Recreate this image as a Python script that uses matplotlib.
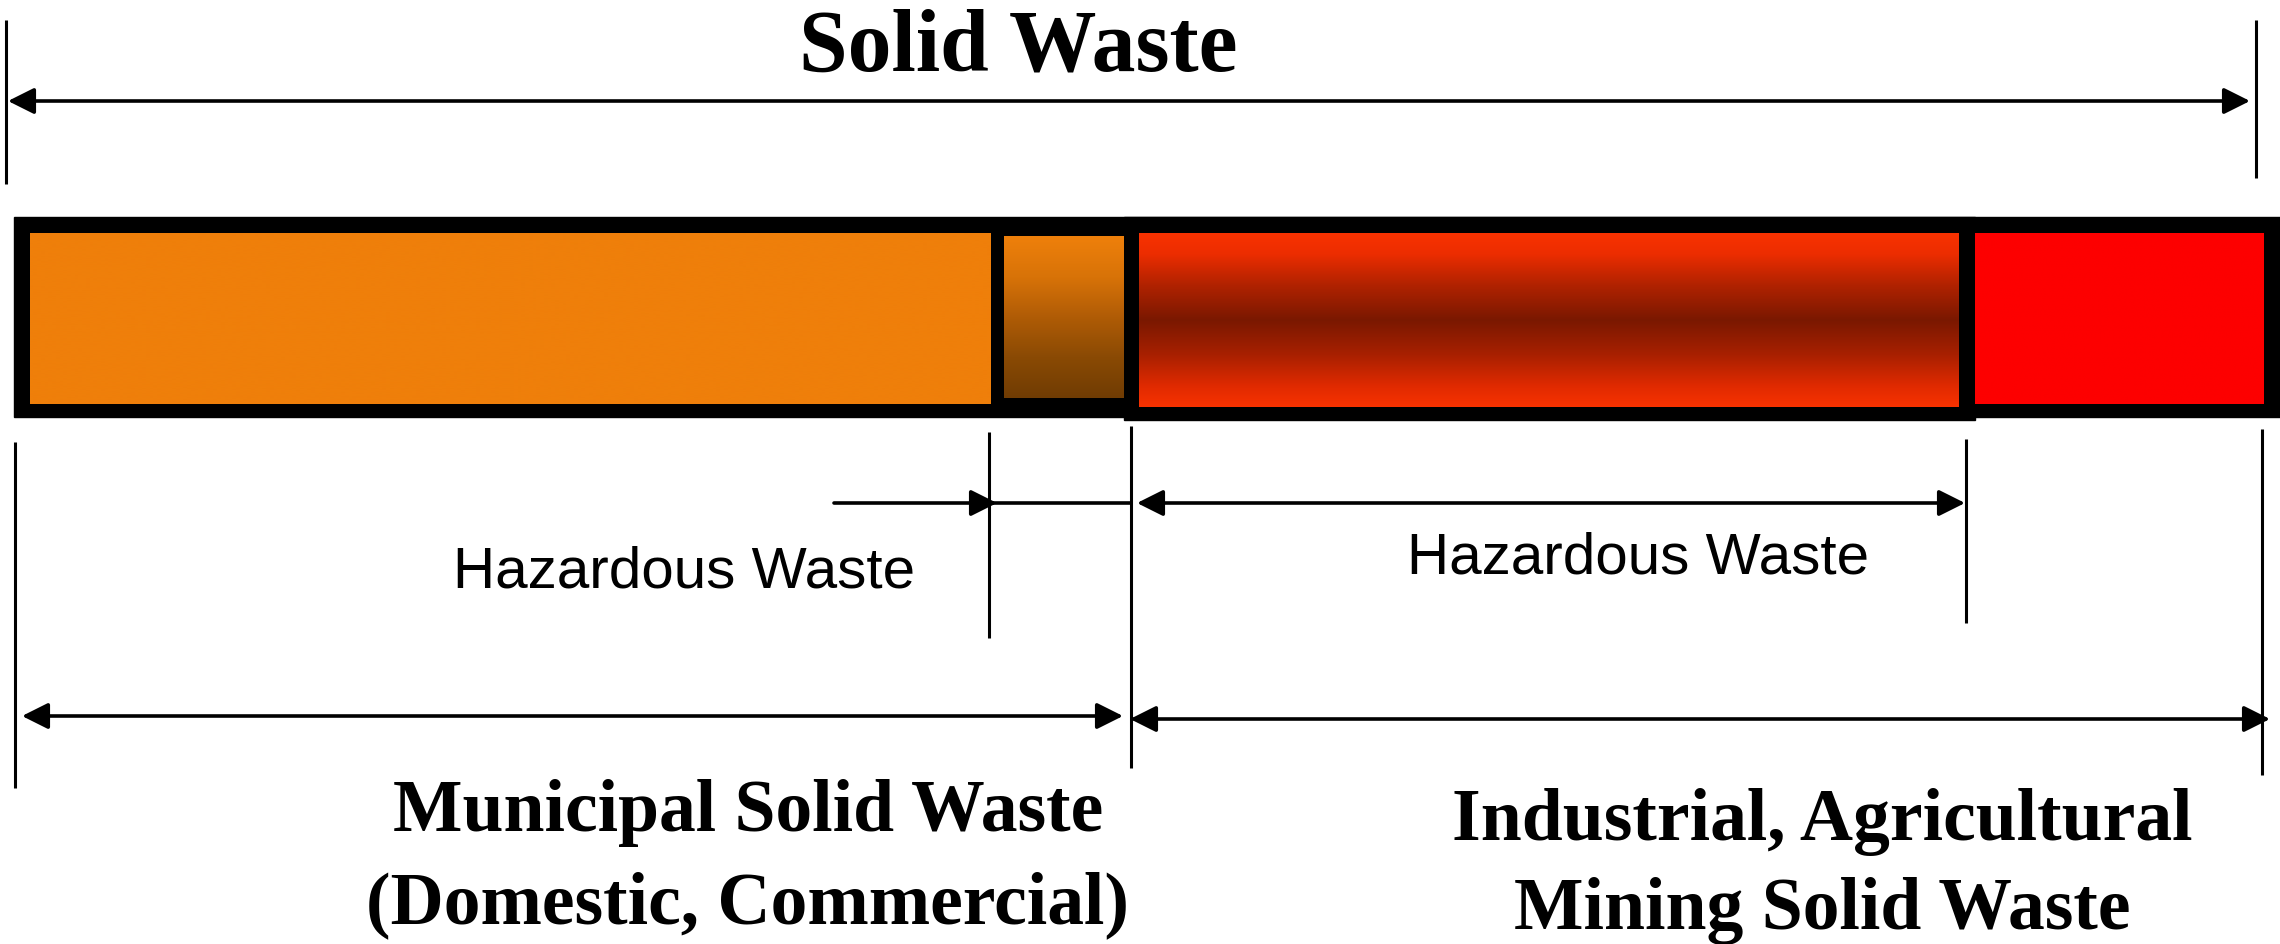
import numpy as np
import matplotlib
matplotlib.use("Agg")
import matplotlib.pyplot as plt
from matplotlib.colors import LinearSegmentedColormap
from matplotlib.patches import Rectangle

# bar segments (left -> right), in picture pixels
seg_names = ["MSW non-hazardous", "MSW hazardous", "Industrial hazardous", "Industrial non-hazardous"]
seg_left = [30, 1004, 1139, 1975]
seg_right = [991, 1124, 1959, 2264]
seg_top = [233, 236, 233, 233]
seg_bottom = [404, 398, 407, 404]

title = "Solid Waste"
haz_label = "Hazardous Waste"
msw_lines = ["Municipal Solid Waste", "(Domestic, Commercial)"]
ind_lines = ["Industrial, Agricultural", "Mining Solid Waste"]

W, H = 2280, 944
fig = plt.figure(figsize=(W / 100, H / 100), dpi=100)
ax = fig.add_axes([0, 0, 1, 1])
ax.set_xlim(0, W)
ax.set_ylim(H, 0)
ax.axis("off")

serif = ["Liberation Serif", "DejaVu Serif"]
sans = ["Liberation Sans", "DejaVu Sans"]

# black frame behind the segments
ax.add_patch(Rectangle((14, 217), W - 14, 200, color="black", zorder=1))
ax.add_patch(Rectangle((1124, 217), 1975 - 1124, 203, color="black", zorder=1))

# colours / gradients of each segment
cmaps = [
    LinearSegmentedColormap.from_list("c0", ["#EF7F0A", "#EF7F0A"]),
    LinearSegmentedColormap.from_list("c1", ["#EF800B", "#D87308", "#B05C06", "#8A4A04", "#703C03"]),
    LinearSegmentedColormap.from_list("c2", [(0, "#F83200"), (0.12, "#EC2D00"), (0.3, "#B02200"),
                                               (0.5, "#7A1800"), (0.7, "#A82000"), (0.88, "#E02A00"),
                                               (1, "#F83200")]),
    LinearSegmentedColormap.from_list("c3", ["#FD0000", "#FD0000"]),
]
grad = np.linspace(0, 1, 256).reshape(-1, 1)
for i in range(len(seg_names)):
    ax.imshow(grad, cmap=cmaps[i], aspect="auto", interpolation="bilinear",
              extent=(seg_left[i], seg_right[i], seg_bottom[i], seg_top[i]), zorder=2)
ax.set_xlim(0, W)
ax.set_ylim(H, 0)

# dimension guide lines
vlines = [(6, 20, 184), (2256, 20, 178), (15, 442, 788), (989, 432, 638),
          (1131, 426, 768), (1966, 439, 623), (2262, 429, 775)]
for x, y0, y1 in vlines:
    ax.plot([x, x], [y0, y1], color="black", lw=2.2, solid_capstyle="butt", zorder=3)


def dim_arrow(x0, x1, y, style="<|-|>"):
    ax.annotate("", xy=(x1, y), xytext=(x0, y),
                arrowprops=dict(arrowstyle=style + ",head_length=0.8,head_width=0.4",
                                mutation_scale=20, lw=2.6, color="black",
                                shrinkA=0, shrinkB=0), zorder=3)


dim_arrow(8, 2250, 101)
dim_arrow(834, 997, 503, "-|>")
ax.plot([989, 1131], [503, 503], color="black", lw=2.6, zorder=3)
dim_arrow(1137, 1965, 503)
dim_arrow(22, 1123, 716)
dim_arrow(1130, 2270, 719)

# texts
ax.text(1018, 70, title, fontsize=63, fontweight="bold", family=serif, ha="center", va="baseline")
ax.text(684, 587, haz_label, fontsize=42, family=sans, ha="center", va="baseline")
ax.text(1638, 574, haz_label, fontsize=42, family=sans, ha="center", va="baseline")
for i, line in enumerate(msw_lines):
    ax.text(748, 831 + 92 * i, line, fontsize=53, fontweight="bold", family=serif,
            ha="center", va="baseline")
for i, line in enumerate(ind_lines):
    ax.text(1822, 840 + 89 * i, line, fontsize=53, fontweight="bold", family=serif,
            ha="center", va="baseline")

fig.savefig("out.png", dpi=100, facecolor="white")
